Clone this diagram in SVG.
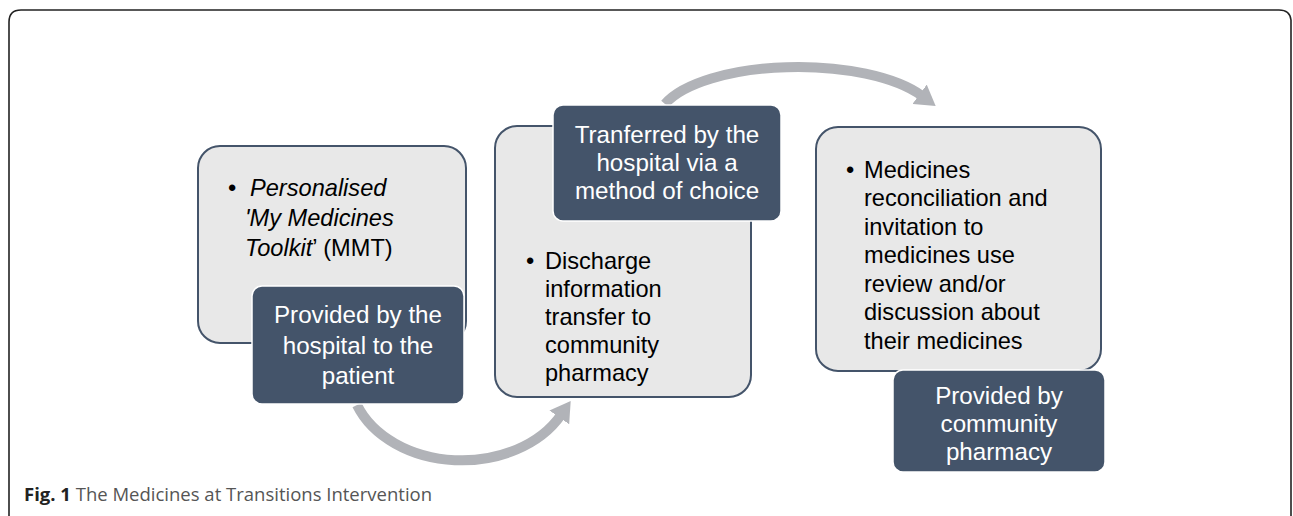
<svg xmlns="http://www.w3.org/2000/svg" width="1293" height="516" viewBox="0 0 1293 516">
<style>
.light{fill:#e8e8e8;stroke:#44546a;stroke-width:2}
.dark{fill:#44546a;stroke:#ffffff;stroke-width:1.5}
.t{font-family:"Liberation Sans",Arial,sans-serif;font-size:23.6px;fill:#000}
.w{font-family:"Liberation Sans",Arial,sans-serif;font-size:24.2px;fill:#fff;text-anchor:middle}
.arc{fill:none;stroke:#b1b3b8;stroke-width:10}
</style>
<defs>
<marker id="ah" viewBox="0 0 20 24" refX="3" refY="12" markerWidth="20" markerHeight="24" markerUnits="userSpaceOnUse" orient="auto">
<path d="M0,0 L20,12 L0,24 z" fill="#b1b3b8"/>
</marker>
</defs>
<rect width="1293" height="516" fill="#fff"/>
<path d="M9,516 V22 Q9,10 21,10 H1279 Q1290,10 1291,20 V516" fill="none" stroke="#222" stroke-width="1.6"/>
<g id="connectors">
<path class="arc" d="M357,405 A112,85 0 0 0 561,415" marker-end="url(#ah)"/>
<path class="arc" d="M665,104 A140,54 0 0 1 922,96" marker-end="url(#ah)"/>
</g>
<g id="node1">
<rect class="light" x="198" y="146" width="268" height="197" rx="22"/>
<text class="t" x="228" y="196">•</text>
<text class="t" x="250" y="196" font-style="italic">Personalised</text>
<text class="t" x="245" y="226" font-style="italic">'My Medicines</text>
<text class="t" x="245" y="256"><tspan font-style="italic">Toolkit</tspan>’ (MMT)</text>
</g>
<g id="node1b">
<rect class="dark" x="252" y="286" width="212" height="118" rx="10"/>
<text class="w" x="358" y="323">Provided by the</text>
<text class="w" x="358" y="354">hospital to the</text>
<text class="w" x="358" y="384">patient</text>
</g>
<g id="node2">
<rect class="light" x="495" y="126" width="256" height="271" rx="22"/>
<text class="t" x="526" y="269">•</text>
<text class="t" x="545" y="269">Discharge</text>
<text class="t" x="545" y="297">information</text>
<text class="t" x="545" y="325">transfer to</text>
<text class="t" x="545" y="353">community</text>
<text class="t" x="545" y="381">pharmacy</text>
</g>
<g id="node2b">
<rect class="dark" x="553" y="105" width="228" height="116" rx="10"/>
<text class="w" x="667" y="143">Tranferred by the</text>
<text class="w" x="667" y="171">hospital via a</text>
<text class="w" x="667" y="199">method of choice</text>
</g>
<g id="node3">
<rect class="light" x="816" y="127" width="285" height="244" rx="22"/>
<text class="t" x="846" y="178">•</text>
<text class="t" x="864" y="178">Medicines</text>
<text class="t" x="864" y="206">reconciliation and</text>
<text class="t" x="864" y="235">invitation to</text>
<text class="t" x="864" y="263">medicines use</text>
<text class="t" x="864" y="292">review and/or</text>
<text class="t" x="864" y="320">discussion about</text>
<text class="t" x="864" y="349">their medicines</text>
</g>
<g id="node3b">
<rect class="dark" x="893" y="370" width="212" height="102" rx="10"/>
<text class="w" x="999" y="404">Provided by</text>
<text class="w" x="999" y="432">community</text>
<text class="w" x="999" y="460">pharmacy</text>
</g>
<text x="24" y="501" font-family="'Open Sans','Liberation Sans',sans-serif" font-size="18.5" fill="#222"><tspan font-weight="bold">Fig. 1</tspan><tspan fill="#555"> The Medicines at Transitions Intervention</tspan></text>
</svg>
